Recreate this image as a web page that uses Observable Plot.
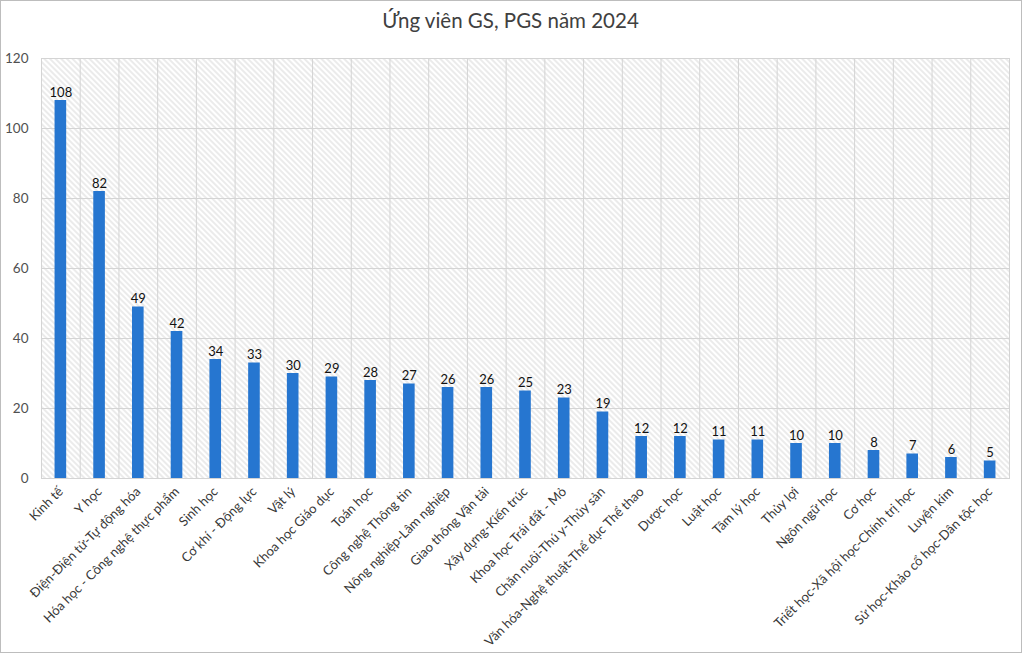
<!DOCTYPE html>
<html>
<head>
<meta charset="utf-8">
<script src="https://cdn.jsdelivr.net/npm/d3@7"></script>
<script src="https://cdn.jsdelivr.net/npm/@observablehq/plot@0.6"></script>
<style>
  html, body { margin: 0; padding: 0; background: #fff; }
  #wrap { position: relative; width: 1024px; height: 655px; overflow: hidden; font-family: Lato, "Noto Sans", sans-serif; }
  #border { position: absolute; left: 0; top: 0; width: 1020px; height: 651px; border: 1px solid #bdbdbd; box-sizing: content-box; }
  #title { position: absolute; left: 0; top: 8px; width: 1021px; text-align: center; font-size: 20.5px; color: #404040; }
  #chart { position: absolute; left: 0; top: 40px; }
</style>
</head>
<body>
<div id="wrap">
  <div id="border"></div>
  <div id="title">Ứng viên GS, PGS năm 2024</div>
  <div id="chart"></div>
</div>
<script>
const categories = [
  "Kinh tế", "Y học", "Điện-Điện tử-Tự động hóa", "Hóa học - Công nghệ thực phẩm",
  "Sinh học", "Cơ khí - Động lực", "Vật lý", "Khoa học Giáo dục", "Toán học",
  "Công nghệ Thông tin", "Nông nghiệp-Lâm nghiệp", "Giao thông Vận tải",
  "Xây dựng-Kiến trúc", "Khoa học Trái đất - Mỏ", "Chăn nuôi-Thú y-Thủy sản",
  "Văn hóa-Nghệ thuật-Thể dục Thể thao", "Dược học", "Luật học", "Tâm lý học",
  "Thủy lợi", "Ngôn ngữ học", "Cơ học", "Triết học-Xã hội học-Chính trị học",
  "Luyện kim", "Sử học-Khảo cổ học-Dân tộc học"
];
const values = [108, 82, 49, 42, 34, 33, 30, 29, 28, 27, 26, 26, 25, 23, 19, 12, 12, 11, 11, 10, 10, 8, 7, 6, 5];
const yTicks = [0, 20, 40, 60, 80, 100, 120];

const data = categories.map((c, i) => ({category: c, value: values[i]}));

const W = 1021, H = 612, mL = 41, mR = 12, mT = 18, mB = 174;
const step = (W - mL - mR) / categories.length;
const gridColor = "#d4d4d4";

const chart = Plot.plot({
  width: W, height: H,
  marginLeft: mL, marginRight: mR, marginTop: mT, marginBottom: mB,
  style: {fontFamily: "Lato, 'Noto Sans', sans-serif", background: "transparent"},
  x: {domain: categories, paddingInner: 0.7, paddingOuter: 0.35, round: false, label: null},
  y: {domain: [0, 120], label: null},
  marks: [
    Plot.frame({fill: "url(#hatch)", stroke: gridColor}),
    Plot.ruleY(yTicks, {stroke: gridColor}),
    Plot.ruleX(categories, {x: d => d, dx: -step / 2, stroke: gridColor}),
    Plot.barY(data, {x: "category", y: "value", fill: "#2676d0"}),
    Plot.text(data, {x: "category", y: "value", text: d => String(d.value), dy: -8, fontSize: 13, fill: "#111"}),
    Plot.axisY(yTicks, {tickSize: 0, tickPadding: 13, fontSize: 13.5, color: "#505050"}),
    Plot.axisX({tickSize: 0, tickPadding: 11, tickRotate: -45, fontSize: 13, color: "#383838"})
  ]
});

const defs = d3.select(chart).insert("defs", ":first-child");
const pat = defs.append("pattern")
  .attr("id", "hatch")
  .attr("patternUnits", "userSpaceOnUse")
  .attr("width", 4).attr("height", 4)
  .attr("patternTransform", "rotate(-45)");
pat.append("rect").attr("width", 4).attr("height", 4).attr("fill", "#ffffff");
pat.append("line").attr("x1", 2).attr("y1", 0).attr("x2", 2).attr("y2", 4)
  .attr("stroke", "#dcdcdc").attr("stroke-width", 1.1);

document.getElementById("chart").appendChild(chart);
</script>
</body>
</html>
